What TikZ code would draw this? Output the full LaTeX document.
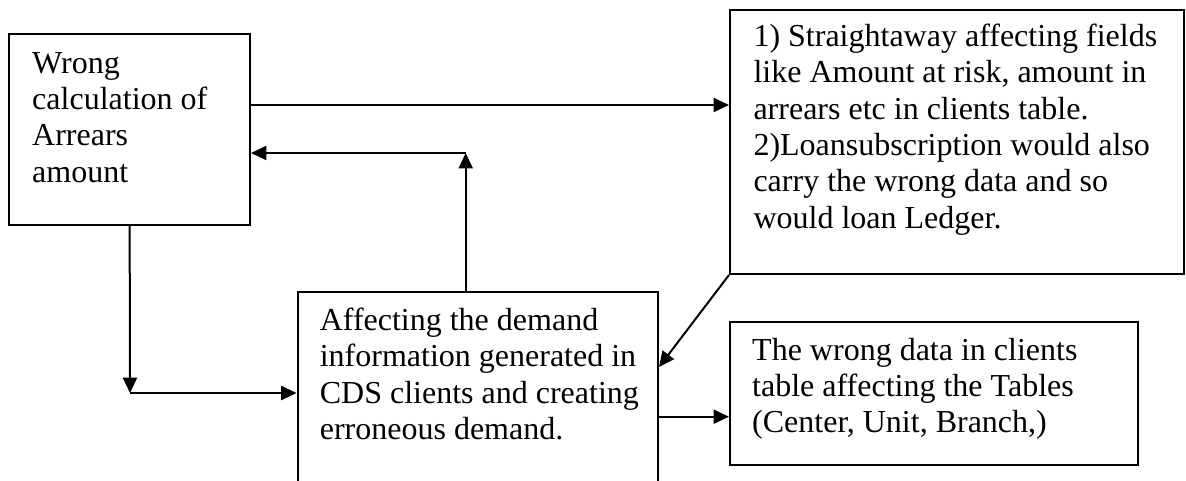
\documentclass[tikz,border=0pt]{standalone}
\usepackage{fontspec}
\setmainfont{Liberation Serif}
\usetikzlibrary{arrows.meta}
\newcommand{\mylines}[1]{\begin{tabular}[t]{@{}l@{}}#1\end{tabular}}
\begin{document}
\begin{tikzpicture}[x=0.375pt,y=-0.375pt,
  boxnode/.style={draw,line width=0.75pt,rectangle,inner sep=0pt},
  txt/.style={anchor=base west,inner sep=0pt,font=\fontsize{12}{13.6}\selectfont},
  arr/.style={line width=0.75pt,-{Triangle[length=5.8pt,width=5.3pt]}}]
\clip (0,0) rectangle (1186,480);
% boxes
\node[boxnode,minimum width=240.7*0.375pt,minimum height=191*0.375pt] (A) at (129.65,129.5) {};
\node[boxnode,minimum width=454*0.375pt,minimum height=264*0.375pt] (B) at (957,142) {};
\node[boxnode,minimum width=360.5*0.375pt,minimum height=258.3*0.375pt] (C) at (477.75,420.85) {};
\node[boxnode,minimum width=408*0.375pt,minimum height=143.3*0.375pt] (D) at (934,393.35) {};
% texts
\node[txt] (At) at (31.7,73.3) {\mylines{Wrong\\calculation of\\Arrears\\amount}};
\node[txt] (Bt) at (753,46.7) {\mylines{1) Straightaway affecting fields\\like Amount at risk, amount in\\arrears etc in clients table.\\2)Loansubscription would also\\carry the wrong data and so\\would loan Ledger.}};
\node[txt] (Ct) at (319.3,330.7) {\mylines{Affecting the demand\\information generated in\\CDS clients and creating\\erroneous demand.}};
\node[txt] (Dt) at (751.7,360) {\mylines{The wrong data in clients\\table affecting the Tables\\(Center, Unit, Branch,)}};
% helper coordinates
\coordinate (r1) at (0,105);
\coordinate (k) at (465.7,153);
\coordinate (m) at (130,393);
\coordinate (n) at (0,367);
\coordinate (o) at (0,416.7);
% connectors
\draw[arr] (A.east |- r1) -- (B.west |- r1);
\draw[arr] (C.north -| k) -- (k);
\draw[arr] (k) -- (A.east |- k);
\draw[arr] (A.south) -- (m);
\draw[arr] (m) -- (C.west |- m);
\draw[arr] (B.south west) -- (C.east |- n);
\draw[arr] (C.east |- o) -- (D.west |- o);
\end{tikzpicture}
\end{document}
